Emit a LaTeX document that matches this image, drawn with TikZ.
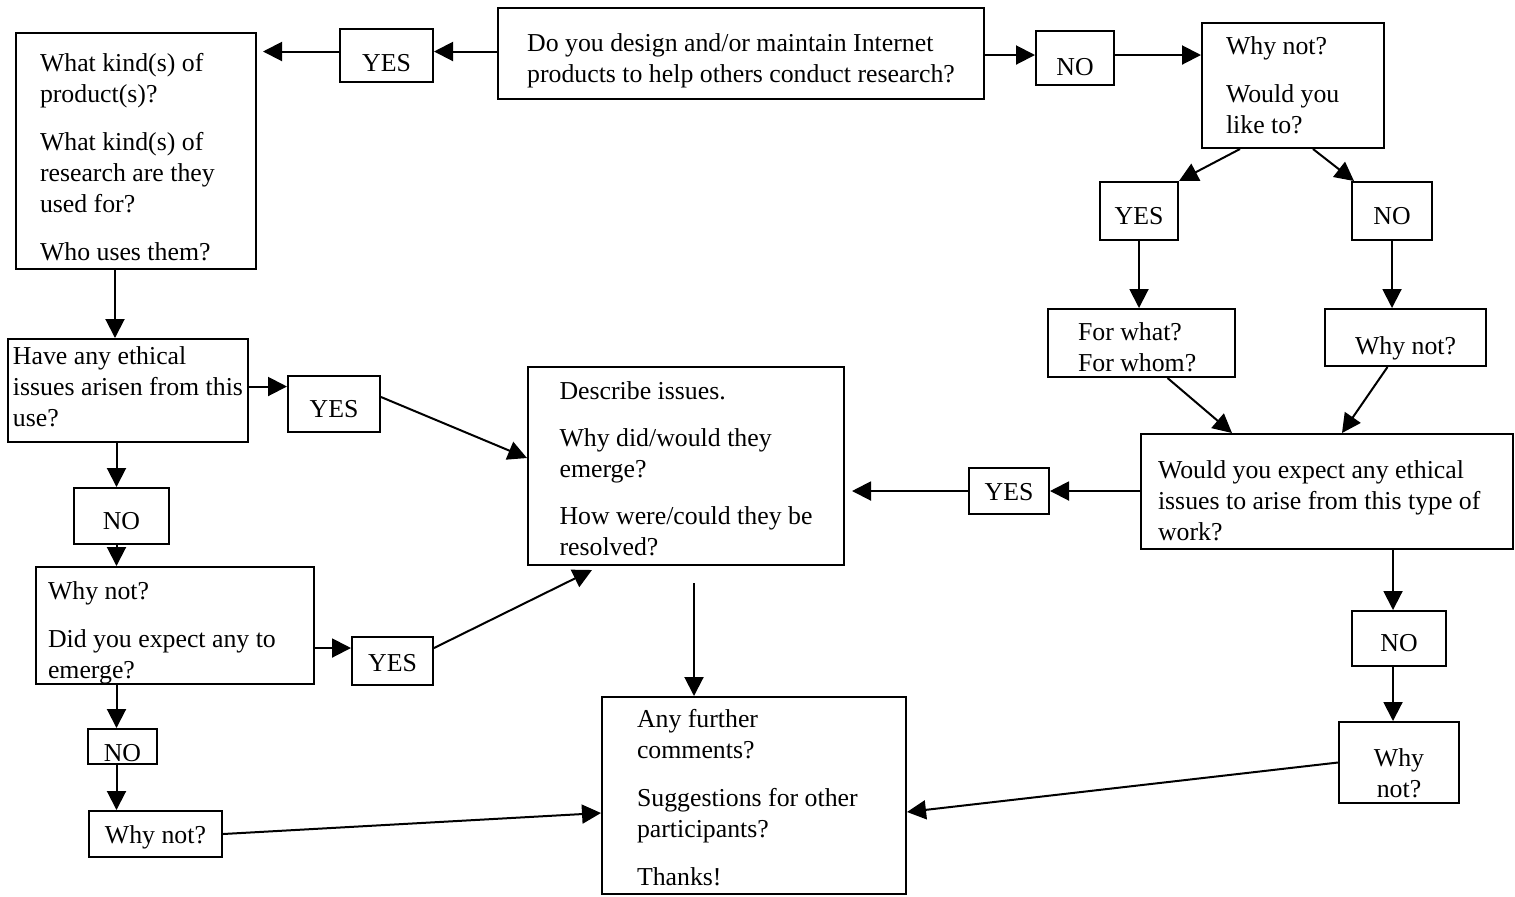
\documentclass[tikz,border=0pt]{standalone}
\usepackage{fontspec}
\setmainfont{Liberation Serif}
\usetikzlibrary{arrows.meta}
\newcommand\vpad[1]{\rule{0pt}{#1}}
\newcommand\dpad[1]{\rule[-#1]{0pt}{#1}}
\begin{document}
\begin{tikzpicture}[x=0.5pt,y=-0.5pt,
  every node/.style={font=\fontsize{12.9}{15.5}\selectfont},
  box/.style={draw, line width=1pt, inner sep=0pt, align=flush left},
  lbl/.style={draw, line width=1pt, inner sep=0pt, align=center, text height=13pt, text depth=0pt},
  arr/.style={line width=1pt, -{Triangle[length=9.5pt,width=9.5pt]}}]
\fill[white] (0,0) rectangle (1515,896);
\useasboundingbox (0,0) rectangle (1515,896);

% boxes
\node[box, minimum width=243pt, minimum height=45.5pt] (q1) at (741,53.5) {\vpad{15.9pt}Do you design and/or maintain Internet\\products to help others conduct research?};
\node[lbl, text height=16pt, minimum width=46.5pt, minimum height=26.5pt] (yes1) at (386.5,55.5) {YES};
\node[box, minimum width=120pt, minimum height=118pt, text width=96pt] (kinds) at (136,151) {\vpad{14.9pt}What kind(s) of\\product(s)?\\[8.5pt]What kind(s) of\\research are they\\used for?\\[8.5pt]Who uses them?};
\node[lbl, text height=17pt, minimum width=39pt, minimum height=27pt] (no1) at (1075,58) {NO};
\node[box, minimum width=91pt, minimum height=62.5pt, text width=67pt] (why1) at (1293,85.5) {Why not?\\[8.5pt]Would you\\like to?};
\node[lbl, minimum width=39pt, minimum height=29pt] (yes2) at (1139,211) {YES};
\node[lbl, minimum width=40pt, minimum height=29pt] (no2) at (1392,211) {NO};
\node[box, minimum width=93.5pt, minimum height=34pt, text width=63.5pt] (fw) at (1141.5,343) {\vpad{12.9pt}For what?\\For whom?};
\node[lbl, text height=17pt, minimum width=80.5pt, minimum height=28.5pt] (why2) at (1405.5,337.5) {Why not?};
\node[box, minimum width=186pt, minimum height=57.5pt, text width=169pt] (would) at (1327,491.5) {\vpad{17.9pt}Would you expect any ethical\\issues to arise from this type of\\work?};
\node[lbl, text height=9pt, minimum width=40pt, minimum height=23pt] (yes3) at (1009,491) {YES};
\node[box, minimum width=158pt, minimum height=99pt] (desc) at (686,466) {\vpad{11.9pt}Describe issues.\\[8pt]Why did/would they\\emerge?\\[8pt]How were/could they be\\resolved?};
\node[box, minimum width=120pt, minimum height=51.5pt] (have) at (128,390.5) {Have any ethical\\issues arisen from this\\use?\dpad{4pt}};
\node[lbl, minimum width=46pt, minimum height=28pt] (yes4) at (334,404) {YES};
\node[lbl, minimum width=47.5pt, minimum height=28pt] (no3) at (121.5,516) {NO};
\node[box, minimum width=139pt, minimum height=58.5pt, text width=127pt] (whydid) at (175,625.5) {\vpad{15.9pt}Why not?\\[8.5pt]Did you expect any to\\emerge?};
\node[lbl, text height=10pt, minimum width=40.5pt, minimum height=24pt] (yes5) at (392.5,661) {YES};
\node[lbl, text height=15pt, minimum width=34.5pt, minimum height=17.5pt] (no4) at (122.5,746.5) {NO};
\node[lbl, text height=9pt, minimum width=66.5pt, minimum height=23pt] (why3) at (155.5,834) {Why not?};
\node[box, minimum width=152pt, minimum height=98.5pt, text width=117pt] (any) at (754,795.5) {\vpad{10.9pt}Any further\\comments?\\[8.5pt]Suggestions for other\\participants?\\[8.5pt]Thanks!};
\node[lbl, minimum width=47pt, minimum height=27.5pt] (no5) at (1399,638.5) {NO};
\node[box, align=center, minimum width=60pt, minimum height=40.5pt] (why4) at (1399,762.5) {\vpad{19.5pt}Why\\not?};

% connectors
\draw[arr] ([yshift=2pt]yes1.east -| q1.west) -- ([yshift=2pt]yes1.east);
\draw[arr, shorten >=3pt] ([yshift=2pt]yes1.west) -- ([yshift=2pt]yes1.west -| kinds.east);
\draw[arr] ([yshift=1.5pt]no1.west -| q1.east) -- ([yshift=1.5pt]no1.west);
\draw[arr] ([yshift=1.5pt]no1.east) -- ([yshift=1.5pt]no1.east -| why1.west);
\draw[arr] ([xshift=-26.5pt]why1.south) -- (yes2.north east);
\draw[arr] ([xshift=10pt]why1.south) -- ([xshift=-19pt]no2.north);
\draw[arr] (yes2.south) -- (yes2.south |- fw.north);
\draw[arr] (no2.south) -- (no2.south |- why2.north);
\draw[arr] ([xshift=13pt]fw.south) -- ([xshift=-47.5pt]would.north);
\draw[arr] ([xshift=-9pt]why2.south) -- ([xshift=7.5pt]would.north);
\draw[arr] (would.west |- yes3.east) -- (yes3.east);
\draw[arr, shorten >=3.5pt] (yes3.west) -- (yes3.west -| desc.east);
\draw[arr] ([xshift=-3pt]no5.north |- would.south) -- ([xshift=-3pt]no5.north);
\draw[arr] ([xshift=-3pt]no5.south) -- ([xshift=-3pt]no5.south |- why4.north);
\draw[arr] (why4.west) -- ([yshift=-8.25pt]any.east);
\draw[arr] ([xshift=-10.5pt]kinds.south) -- ([xshift=-10.5pt]kinds.south |- have.north);
\draw[arr] ([yshift=2pt]have.east) -- ([yshift=2pt]have.east -| yes4.west);
\draw[arr] ([yshift=3.5pt]yes4.east) -- ([yshift=4pt]desc.west);
\draw[arr] ([xshift=-2.5pt]no3.north |- have.south) -- ([xshift=-2.5pt]no3.north);
\draw[arr] ([xshift=-2.5pt]no3.south) -- ([xshift=-2.5pt]no3.south |- whydid.north);
\draw[arr] ([yshift=6.5pt]yes5.west -| whydid.east) -- ([yshift=6.5pt]yes5.west);
\draw[arr] ([yshift=6.5pt]yes5.east) -- ([xshift=-47pt,yshift=-2pt]desc.south);
\draw[arr] ([xshift=-3pt]no4.north |- whydid.south) -- ([xshift=-3pt]no4.north);
\draw[arr] ([xshift=-3pt]no4.south) -- ([xshift=-3pt]no4.south |- why3.north);
\draw[arr] (why3.east) -- ([yshift=-8.75pt]any.west);
\draw[arr] ([xshift=4pt,yshift=-8.5pt]desc.south) -- ([xshift=4pt]desc.south |- any.north);
\end{tikzpicture}
\end{document}
